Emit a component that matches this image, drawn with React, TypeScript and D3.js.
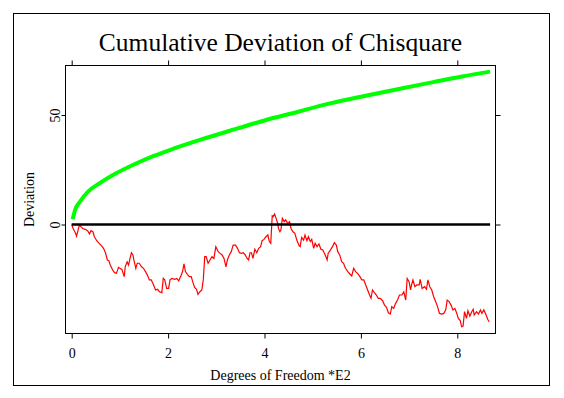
import React, { useEffect, useRef } from "react";
import * as d3 from "d3";

const title = "Cumulative Deviation of Chisquare";
const xLabel = "Degrees of Freedom *E2";
const yLabel = "Deviation";
const xTicks = [0, 2, 4, 6, 8];
const yTicks = [0, 50];

// green curve at a handful of x positions
const greenX = [0.02, 0.07, 0.17, 0.34, 0.59, 0.93, 1.28, 1.69, 2.11, 2.66, 3.28, 4.0, 4.7, 5.23, 6.0, 6.81, 7.5, 8.1, 8.68];
const greenY = [2.4, 6.6, 10.4, 15.0, 19.0, 23.5, 27.3, 31.2, 34.6, 38.6, 42.8, 47.5, 51.5, 54.6, 58.3, 62.0, 65.0, 67.6, 69.8];

// red cumulative deviation, [x, y]
const redWalk = [
  [0.0, 0], [0.03, -1.8], [0.08, -4.0], [0.1, -5.3], [0.13, -2.8], [0.16, -0.2], [0.19, -1.0], [0.23, -1.8],
  [0.28, -2.2], [0.33, -2.8], [0.37, -4.3], [0.4, -2.8], [0.44, -3.3], [0.47, -5.6], [0.52, -7.4], [0.57, -8.6],
  [0.62, -9.8], [0.66, -10.9], [0.7, -12.9], [0.74, -16.2], [0.77, -16.5], [0.8, -18.5], [0.85, -20.8], [0.89, -22.0],
  [0.93, -22.3], [0.97, -19.6], [1.0, -20.0], [1.04, -20.5], [1.09, -23.8], [1.11, -19.3], [1.15, -17.0], [1.18, -18.5],
  [1.21, -15.5], [1.24, -12.9], [1.27, -13.9], [1.29, -16.2], [1.33, -20.0], [1.36, -17.7], [1.4, -17.7], [1.45, -19.3],
  [1.49, -20.0], [1.53, -21.5], [1.57, -23.1], [1.61, -25.3], [1.65, -25.3], [1.69, -27.2], [1.74, -29.9], [1.78, -29.6],
  [1.82, -30.7], [1.87, -31.1], [1.9, -24.6], [1.93, -25.3], [1.97, -29.2], [2.01, -29.2], [2.04, -25.3], [2.08, -24.6],
  [2.14, -25.0], [2.18, -24.6], [2.22, -25.7], [2.26, -23.8], [2.3, -21.5], [2.33, -18.0], [2.36, -21.5], [2.4, -22.8],
  [2.44, -23.8], [2.48, -23.8], [2.51, -26.1], [2.55, -28.7], [2.59, -29.6], [2.62, -31.9], [2.66, -30.7], [2.7, -29.9],
  [2.73, -25.3], [2.76, -14.7], [2.79, -14.7], [2.83, -17.7], [2.87, -16.2], [2.91, -14.7], [2.95, -15.5], [2.99, -10.1],
  [3.04, -12.4], [3.08, -13.2], [3.12, -13.9], [3.16, -15.5], [3.2, -19.3], [3.23, -16.2], [3.27, -13.9], [3.31, -12.4],
  [3.35, -9.4], [3.4, -9.4], [3.44, -10.9], [3.48, -12.9], [3.52, -13.2], [3.56, -12.9], [3.6, -13.9], [3.64, -15.5],
  [3.67, -16.2], [3.7, -12.9], [3.73, -12.9], [3.76, -15.5], [3.8, -11.3], [3.84, -12.9], [3.88, -10.9], [3.92, -10.1],
  [3.95, -7.4], [3.99, -6.8], [4.03, -5.6], [4.07, -4.8], [4.1, -7.8], [4.13, -8.6], [4.16, 3.9], [4.18, 3.6],
  [4.21, 4.8], [4.24, 2.8], [4.27, 0.8], [4.29, -1.8], [4.32, -3.3], [4.34, -2.5], [4.37, 2.8], [4.41, 1.3],
  [4.44, 2.1], [4.48, 0.5], [4.52, 1.3], [4.55, -1.8], [4.59, -3.3], [4.63, -4.0], [4.67, -7.1], [4.72, -9.8],
  [4.74, -10.1], [4.77, -5.9], [4.81, -7.1], [4.84, -4.8], [4.88, -7.4], [4.91, -5.6], [4.95, -7.8], [4.98, -6.8],
  [5.02, -10.9], [5.05, -8.6], [5.09, -10.1], [5.13, -8.9], [5.17, -11.3], [5.21, -11.6], [5.26, -13.9], [5.3, -16.2],
  [5.32, -13.2], [5.37, -11.6], [5.41, -10.1], [5.45, -8.3], [5.49, -9.4], [5.52, -12.4], [5.56, -13.9], [5.6, -17.0],
  [5.64, -17.7], [5.68, -20.0], [5.73, -21.5], [5.77, -22.6], [5.81, -23.5], [5.85, -20.0], [5.89, -21.5], [5.93, -22.3],
  [5.98, -23.8], [6.02, -25.3], [6.06, -25.3], [6.1, -27.6], [6.14, -29.9], [6.18, -32.2], [6.21, -33.7], [6.24, -29.9],
  [6.28, -31.1], [6.32, -32.2], [6.36, -33.7], [6.4, -33.7], [6.45, -34.8], [6.49, -36.8], [6.53, -37.8], [6.57, -40.3],
  [6.61, -40.9], [6.64, -37.5], [6.68, -38.3], [6.72, -36.0], [6.76, -34.5], [6.8, -32.2], [6.85, -32.2], [6.89, -30.7],
  [6.93, -34.5], [6.96, -24.6], [7.0, -26.1], [7.03, -29.9], [7.05, -27.6], [7.08, -25.3], [7.12, -28.4], [7.16, -27.6],
  [7.21, -27.6], [7.23, -25.0], [7.27, -29.2], [7.32, -28.4], [7.36, -29.6], [7.39, -25.3], [7.43, -28.4], [7.47, -29.9],
  [7.51, -33.0], [7.55, -35.2], [7.59, -37.5], [7.63, -40.6], [7.68, -40.9], [7.72, -40.6], [7.76, -39.0], [7.79, -34.5],
  [7.83, -35.2], [7.87, -36.8], [7.91, -39.0], [7.95, -38.3], [7.99, -40.6], [8.02, -42.9], [8.06, -43.9], [8.09, -46.7],
  [8.12, -46.4], [8.15, -39.8], [8.19, -42.9], [8.22, -39.4], [8.26, -41.8], [8.3, -39.8], [8.33, -38.7], [8.35, -41.3],
  [8.4, -39.8], [8.44, -40.9], [8.48, -39.0], [8.51, -40.6], [8.55, -39.0], [8.59, -40.9], [8.63, -43.3], [8.66, -44.4],
];

const serif = "'Liberation Serif', 'Times New Roman', serif";

function App() {
  const ref = useRef<SVGSVGElement>(null);

  useEffect(() => {
    const width = 564;
    const height = 398;
    // plot box edges
    const box = { left: 65.5, right: 495.5, top: 65.5, bottom: 333.5 };

    const svg = d3.select(ref.current);
    svg.selectAll("*").remove();

    const x = d3.scaleLinear().domain([0, 8]).range([71.7, 457.3]);
    const y = d3.scaleLinear().domain([0, 50]).range([224.5, 115]);

    // outer frame
    svg
      .append("rect")
      .attr("x", 13.5)
      .attr("y", 13.5)
      .attr("width", width - 28)
      .attr("height", height - 26)
      .attr("fill", "none")
      .attr("stroke", "#000");

    // plot box
    svg
      .append("rect")
      .attr("x", box.left)
      .attr("y", box.top)
      .attr("width", box.right - box.left)
      .attr("height", box.bottom - box.top)
      .attr("fill", "none")
      .attr("stroke", "#000");

    // bottom axis with labels
    const gx = svg
      .append("g")
      .attr("transform", `translate(0,${box.bottom})`)
      .call(d3.axisBottom(x).tickValues(xTicks).tickSize(5).tickPadding(10).tickFormat(d3.format("d")));
    gx.select(".domain").remove();
    gx.attr("font-family", serif).attr("font-size", 14);

    // top axis, ticks only
    const gt = svg
      .append("g")
      .attr("transform", `translate(0,${box.top})`)
      .call(d3.axisTop(x).tickValues(xTicks).tickSize(5).tickFormat(() => ""));
    gt.select(".domain").remove();

    // left axis, rotated labels
    const gy = svg
      .append("g")
      .attr("transform", `translate(${box.left},0)`)
      .call(d3.axisLeft(y).tickValues(yTicks).tickSize(4).tickFormat(d3.format("d")));
    gy.select(".domain").remove();
    gy.attr("font-family", serif).attr("font-size", 14);
    gy.selectAll("text")
      .attr("x", 0)
      .attr("y", -6)
      .attr("dy", 0)
      .attr("text-anchor", "middle")
      .attr("transform", "rotate(-90)");

    // right axis, ticks only
    const gr = svg
      .append("g")
      .attr("transform", `translate(${box.right},0)`)
      .call(d3.axisRight(y).tickValues(yTicks).tickSize(5).tickFormat(() => ""));
    gr.select(".domain").remove();

    // green curve
    const greenLine = d3
      .line<number>()
      .x((d, i) => x(greenX[i]))
      .y((d) => y(d))
      .curve(d3.curveMonotoneX);
    svg
      .append("path")
      .datum(greenY)
      .attr("fill", "none")
      .attr("stroke", "#00ff00")
      .attr("stroke-width", 4)
      .attr("d", greenLine);

    // red walk
    const redLine = d3
      .line<number[]>()
      .x((d) => x(d[0]))
      .y((d) => y(d[1]));
    svg
      .append("path")
      .datum(redWalk)
      .attr("fill", "none")
      .attr("stroke", "#ff0000")
      .attr("stroke-width", 1.2)
      .attr("d", redLine);

    // zero line
    svg
      .append("line")
      .attr("x1", x(0))
      .attr("x2", x(d3.max(redWalk, (d) => d[0]) as number) + 1)
      .attr("y1", y(0))
      .attr("y2", y(0))
      .attr("stroke", "#000")
      .attr("stroke-width", 2.5);

    // title and axis labels
    svg
      .append("text")
      .attr("x", (box.left + box.right) / 2)
      .attr("y", 51)
      .attr("text-anchor", "middle")
      .attr("font-family", serif)
      .attr("font-size", 25.5)
      .text(title);

    svg
      .append("text")
      .attr("x", (box.left + box.right) / 2)
      .attr("y", 380)
      .attr("text-anchor", "middle")
      .attr("font-family", serif)
      .attr("font-size", 14)
      .text(xLabel);

    svg
      .append("text")
      .attr("transform", `translate(34,${(box.top + box.bottom) / 2}) rotate(-90)`)
      .attr("text-anchor", "middle")
      .attr("font-family", serif)
      .attr("font-size", 14)
      .text(yLabel);
  }, []);

  return (
    <svg
      ref={ref}
      width={564}
      height={398}
      style={{ position: "absolute", left: 0, top: 0, background: "#fff" }}
    />
  );
}

export default App;
